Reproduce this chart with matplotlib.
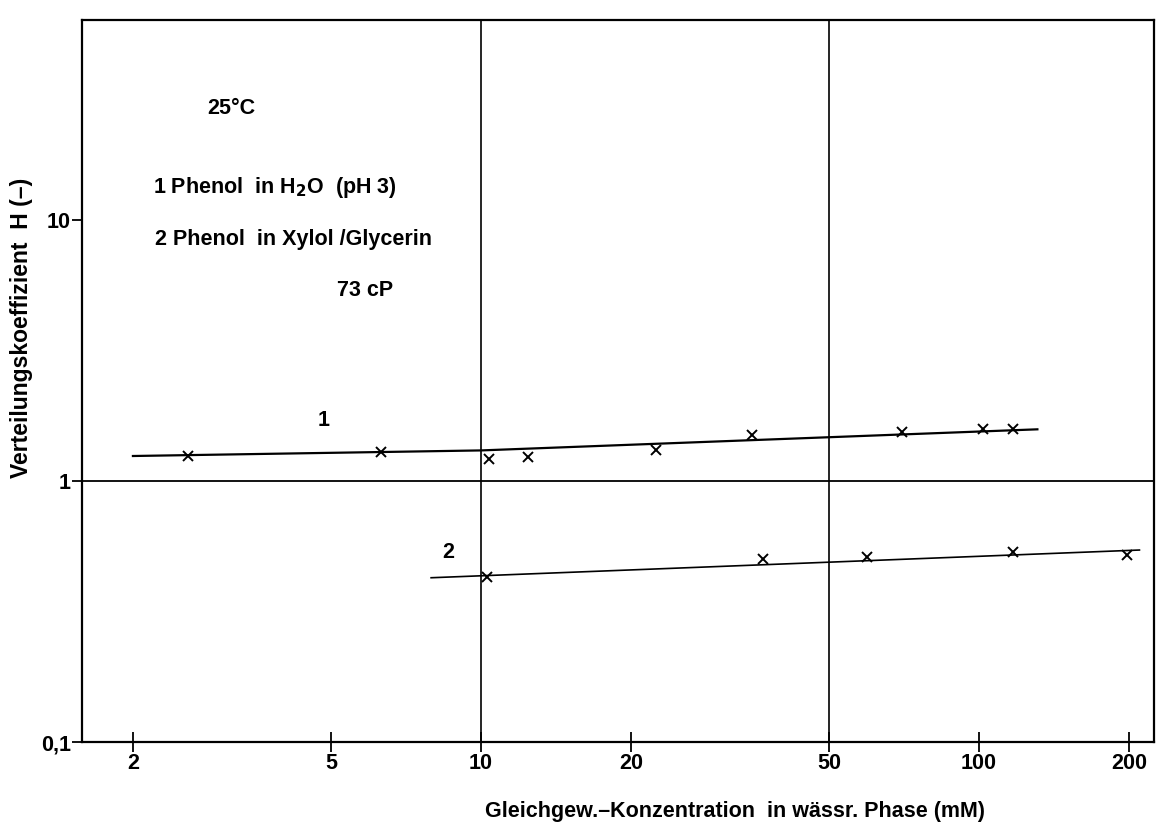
import matplotlib
matplotlib.use("Agg")
import matplotlib.pyplot as plt

conc_1 = [2.58, 6.31, 10.4, 12.4, 22.5, 35.0, 70.0, 102.0, 117.0]
h_1 = [1.25, 1.29, 1.21, 1.24, 1.31, 1.50, 1.545, 1.58, 1.58]
conc_2 = [10.3, 36.8, 59.7, 117.0, 198.0]
h_2 = [0.430, 0.501, 0.513, 0.536, 0.520]

# Ausgleichslinien
fit_x_1 = [2.0, 10.0, 131.0]
fit_y_1 = [1.247, 1.31, 1.578]
fit_x_2 = [7.94, 210.0]
fit_y_2 = [0.426, 0.544]

x_ticks = [2, 5, 10, 20, 50, 100, 200]
x_ticklabels = ["2", "5", "10", "20", "50", "100", "200"]
y_ticks = [0.1, 1, 10]
y_ticklabels = ["0,1", "1", "10"]

plt.rcParams['font.family'] = ['Liberation Sans', 'DejaVu Sans']
plt.rcParams['font.weight'] = 'bold'

fig = plt.figure(figsize=(11.64, 8.34), dpi=100)
ax = fig.add_axes([0.0704, 0.1103, 0.921, 0.8657])

ax.set_xscale('log')
ax.set_yscale('log')
ax.set_xlim(1.58, 224.6)
ax.set_ylim(0.1, 58.4)

# Hilfslinien
ax.axvline(10, color='black', lw=1.2)
ax.axvline(50, color='black', lw=1.2)
ax.axhline(1, color='black', lw=1.3)

ax.plot(fit_x_1, fit_y_1, color='black', lw=1.6)
ax.plot(fit_x_2, fit_y_2, color='black', lw=1.2)
ax.plot(conc_1, h_1, 'x', color='black', ms=7, mew=1.4)
ax.plot(conc_2, h_2, 'x', color='black', ms=7, mew=1.4)

ax.set_xticks(x_ticks)
ax.set_xticklabels(x_ticklabels)
ax.set_yticks(y_ticks)
ax.set_yticklabels(y_ticklabels)
ax.minorticks_off()
ax.tick_params(axis='x', direction='inout', length=14, width=1.3, labelsize=15.5, pad=1)
ax.tick_params(axis='y', direction='out', length=7, width=1.3, labelsize=15.5, pad=1)
for s in ax.spines.values():
    s.set_linewidth(1.6)


def put(x, y, s, size=15.5, **kw):
    # Position in Pixeln (von oben links)
    fig.text(x / 1164, 1 - y / 834, s, fontsize=size, fontweight='bold', va='center', **kw)


put(324, 420, "1", ha='center')
put(448, 552, "2", ha='center')

put(207, 108, "25°C")
put(153, 187, r"1 Phenol  in H$_\mathbf{2}$O  (pH 3)")
put(155, 239, "2 Phenol  in Xylol /Glycerin")
put(337, 291, "73 cP")

put(735, 812, "Gleichgew.–Konzentration  in wässr. Phase (mM)", ha='center')
put(22, 328, "Verteilungskoeffizient  H (–)", size=16.5, ha='center', rotation=90)

fig.savefig("out.png", dpi=100)
